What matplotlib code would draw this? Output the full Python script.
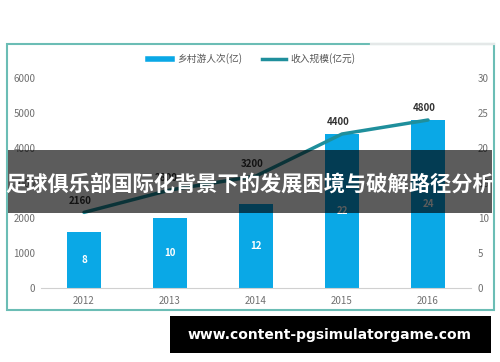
import matplotlib
matplotlib.use("Agg")
import matplotlib.pyplot as plt
from matplotlib.lines import Line2D
from matplotlib.patches import Rectangle

plt.rcParams['font.family'] = ['Noto Sans CJK SC', 'DejaVu Sans']

years = ["2012", "2013", "2014", "2015", "2016"]
visitors = [8, 10, 12, 22, 24]          # bars, right axis (亿)
income = [2160, 2800, 3200, 4400, 4800]  # line, left axis (亿元)
left_ticks = [0, 1000, 2000, 3000, 4000, 5000, 6000]
right_ticks = [0, 5, 10, 15, 20, 25, 30]
legend_labels = ["乡村游人次(亿)", "收入规模(亿元)"]
title = "足球俱乐部国际化背景下的发展困境与破解路径分析"
watermark = "www.content-pgsimulatorgame.com"

W, H = 500, 362
fig = plt.figure(figsize=(W / 100, H / 100), dpi=100)
fig.patch.set_facecolor("white")

def fx(px):
    return px / W

def fy(py):
    return 1 - py / H

ax = fig.add_axes([fx(41), fy(288), fx(471) - fx(41), fy(78) - fy(288)])
ax2 = ax.twinx()

bar_color = "#0aa8e6"
line_color = "#1f8f9c"
tick_color = "#707070"

x = list(range(len(years)))
ax2.bar(x, visitors, width=0.4, color=bar_color, zorder=1)
for xi, v in zip(x, visitors):
    ax2.text(xi, v / 2, str(v), ha="center", va="center", color="white",
             fontsize=7, fontweight="bold")
ax2.set_ylim(0, 30)
ax2.set_yticks(right_ticks)

ax.set_zorder(ax2.get_zorder() + 1)
ax.patch.set_visible(False)
ax.plot(x, income, color=line_color, lw=2.5, solid_capstyle="round")
for xi, v in zip(x, income):
    ax.text(xi - 0.04, v + 330, str(v), ha="center", va="center", color="#333333",
            fontsize=7, fontweight="bold")
ax.set_ylim(0, 6000)
ax.set_yticks(left_ticks)
ax.set_xlim(-0.5, 4.5)
ax.set_xticks(x)
ax.set_xticklabels(years)

for a in (ax, ax2):
    for s in a.spines.values():
        s.set_visible(False)
    a.tick_params(length=0, colors=tick_color, labelsize=7)
ax.spines["bottom"].set_visible(True)
ax.spines["bottom"].set_color("#d0d0d0")
ax.tick_params(axis="x", pad=6)
ax.tick_params(axis="y", pad=4)
ax2.tick_params(axis="y", pad=5)

handles = [Line2D([0], [0], color=bar_color, lw=4),
           Line2D([0], [0], color=line_color, lw=2.5)]
fig.legend(handles, legend_labels, loc="center", bbox_to_anchor=(fx(252), fy(59)),
           ncol=2, frameon=False, fontsize=7, labelcolor="#555555",
           handlelength=2.5, columnspacing=2.0, handletextpad=0.5)

# frame around chart
fig.patches.append(Rectangle((fx(6.5), fy(310)), fx(494) - fx(6.5), fy(44) - fy(310),
                             transform=fig.transFigure, fill=False,
                             edgecolor="#6bbdb5", lw=1.5, zorder=5))
fig.lines.append(Line2D([fx(371), fx(494)], [fy(44), fy(44)], transform=fig.transFigure,
                        color="#e4e8e8", lw=1.6, zorder=6))

# title banner
fig.patches.append(Rectangle((fx(8), fy(213)), fx(492) - fx(8), fy(150) - fy(213),
                             transform=fig.transFigure, facecolor="black",
                             alpha=0.64, edgecolor="none", zorder=10))
fig.text(fx(250), fy(184), title, ha="center", va="center", color="white",
         fontsize=15.3, fontweight="bold", zorder=11)

# watermark
fig.patches.append(Rectangle((fx(170), fy(353)), fx(491) - fx(170), fy(316) - fy(353),
                             transform=fig.transFigure, facecolor="black",
                             edgecolor="none", zorder=10))
fig.text(fx(330), fy(335), watermark, ha="center", va="center", color="white",
         fontsize=10, fontweight="bold", family=["DejaVu Sans"], zorder=11)

fig.savefig("out.png", dpi=100)
